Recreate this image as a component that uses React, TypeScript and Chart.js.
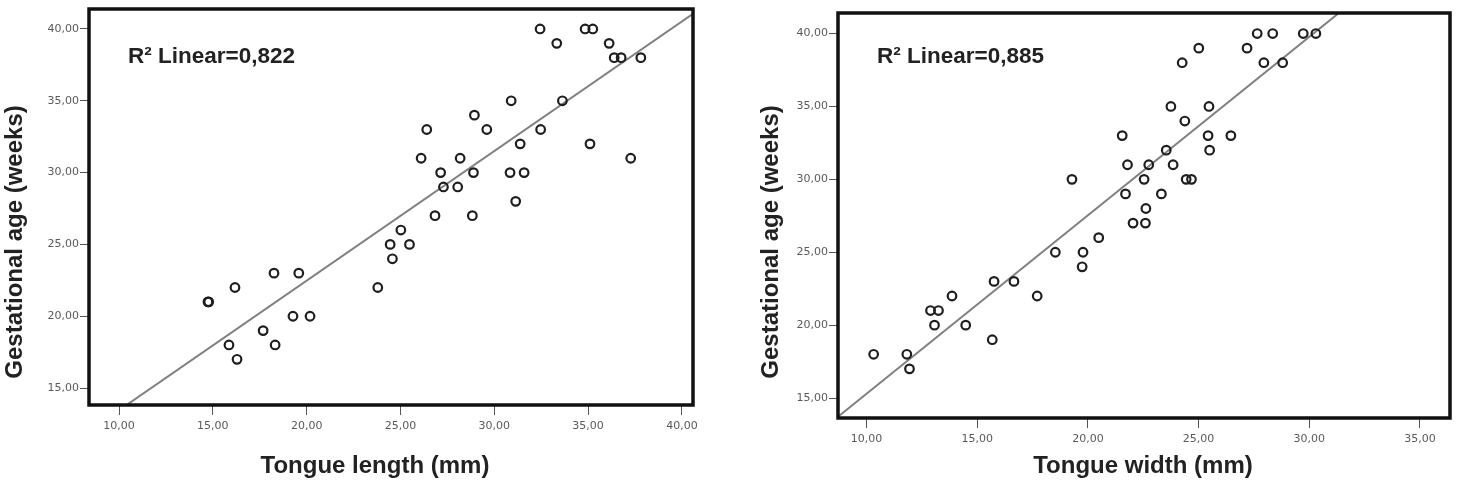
import { useEffect, useRef } from "react";
import { Chart, registerables } from "chart.js";

Chart.register(...registerables);

// Tongue length (mm) vs gestational age (weeks)
const lengthMm = [
  14.74, 14.78, 15.86, 16.18, 16.29, 17.68, 18.26, 18.32, 19.27, 19.58, 20.18,
  23.79, 24.45, 24.57, 25.02, 25.48, 26.1, 26.4, 26.84, 27.14, 27.29, 28.05,
  28.18, 28.83, 28.89, 28.94, 29.6, 30.84, 30.9, 31.14, 31.38, 31.59, 32.44,
  32.47, 33.33, 33.63, 34.84, 35.1, 35.25, 36.12, 36.39, 36.76, 37.27, 37.81,
];
const lengthAge = [
  21, 21, 18, 22, 17, 19, 23, 18, 20, 23, 20, 22, 25, 24, 26, 25, 31, 33, 27,
  30, 29, 29, 31, 27, 30, 34, 33, 30, 35, 28, 32, 30, 40, 33, 39, 35, 40, 32,
  40, 39, 38, 38, 31, 38,
];

// Tongue width (mm) vs gestational age (weeks)
const widthMm = [
  10.32, 11.82, 11.94, 12.89, 13.25, 13.07, 13.86, 14.48, 15.68, 15.76, 16.66,
  17.71, 18.53, 19.78, 19.74, 20.49, 19.28, 21.55, 21.79, 22.75, 23.85, 22.54,
  24.44, 24.68, 21.7, 23.32, 22.62, 22.04, 22.6, 23.54, 25.5, 25.43, 26.46,
  24.38, 23.75, 25.47, 24.26, 27.95, 28.8, 25.01, 27.19, 27.65, 28.35, 29.73,
  30.3,
];
const widthAge = [
  18, 18, 17, 21, 21, 20, 22, 20, 19, 23, 23, 22, 25, 25, 24, 26, 30, 33, 31,
  31, 31, 30, 30, 30, 29, 29, 28, 27, 27, 32, 32, 33, 33, 34, 35, 35, 38, 38,
  38, 39, 39, 40, 40, 40, 40,
];

const ageTicks = [15, 20, 25, 30, 35, 40];
const lengthTicks = [10, 15, 20, 25, 30, 35, 40];
const widthTicks = [10, 15, 20, 25, 30, 35];

const lengthFitLabel = "R² Linear=0,822";
const widthFitLabel = "R² Linear=0,885";

const fmt = (v: number) => v.toFixed(2).replace(".", ",");

function leastSquares(xs: number[], ys: number[]) {
  const n = xs.length;
  const mx = xs.reduce((s, v) => s + v, 0) / n;
  const my = ys.reduce((s, v) => s + v, 0) / n;
  let sxy = 0;
  let sxx = 0;
  for (let i = 0; i < n; i++) {
    sxy += (xs[i] - mx) * (ys[i] - my);
    sxx += (xs[i] - mx) * (xs[i] - mx);
  }
  const slope = sxy / sxx;
  return { slope, intercept: my - slope * mx };
}

const TITLE_FONT = "bold 24px 'Liberation Sans', Arial, sans-serif";
const LABEL_FONT = "bold 22.5px 'Liberation Sans', Arial, sans-serif";

// Frame around the plot area, fit label and both axis titles
const panelDecor = {
  id: "panelDecor",
  afterDraw(chart: any, _args: any, opts: any) {
    const { ctx, chartArea: a } = chart;
    ctx.save();
    ctx.strokeStyle = "#111";
    ctx.lineWidth = 3.5;
    ctx.strokeRect(a.left, a.top, a.right - a.left, a.bottom - a.top);

    ctx.fillStyle = "#222";
    ctx.textBaseline = "middle";
    ctx.textAlign = "left";
    ctx.font = LABEL_FONT;
    ctx.fillText(opts.fitLabel, a.left + opts.labelDx, opts.labelY);

    ctx.font = TITLE_FONT;
    ctx.textAlign = "center";
    ctx.fillText(opts.xTitle, opts.xTitleX, opts.xTitleY);

    ctx.translate(opts.yTitleX, opts.yTitleY);
    ctx.rotate(-Math.PI / 2);
    ctx.fillText(opts.yTitle, 0, 0);
    ctx.restore();
  },
};

type PanelProps = {
  xs: number[];
  ys: number[];
  xTicks: number[];
  xMin: number;
  xMax: number;
  yMin: number;
  yMax: number;
  yAxisWidth: number;
  xAxisHeight: number;
  padTop: number;
  padRight: number;
  fitLabel: string;
  labelDx: number;
  xTitle: string;
  xTitleX: number;
  yTitleX: number;
};

function Panel(p: PanelProps) {
  const ref = useRef<HTMLCanvasElement | null>(null);

  useEffect(() => {
    if (!ref.current) return;
    const fit = leastSquares(p.xs, p.ys);
    const points = p.xs.map((x, i) => ({ x, y: p.ys[i] }));
    const fitLine = [
      { x: p.xMin, y: fit.intercept + fit.slope * p.xMin },
      { x: p.xMax, y: fit.intercept + fit.slope * p.xMax },
    ];
    const tickFont = { family: "'DejaVu Sans', sans-serif", size: 11 };

    const chart = new Chart(ref.current, {
      type: "scatter",
      data: {
        datasets: [
          {
            type: "scatter",
            data: points,
            pointRadius: 4.3,
            pointBorderWidth: 2.2,
            pointBorderColor: "#1e1e1e",
            pointBackgroundColor: "rgba(255,255,255,0)",
            order: 0,
          },
          {
            type: "line",
            data: fitLine,
            borderColor: "#808080",
            borderWidth: 2,
            pointRadius: 0,
            order: 1,
          },
        ],
      },
      options: {
        responsive: false,
        animation: false,
        devicePixelRatio: 1,
        layout: {
          padding: { top: p.padTop, right: p.padRight, left: 0, bottom: 0 },
        },
        plugins: {
          legend: { display: false },
          tooltip: { enabled: false },
          panelDecor: {
            fitLabel: p.fitLabel,
            labelDx: p.labelDx,
            labelY: 57,
            xTitle: p.xTitle,
            xTitleX: p.xTitleX,
            xTitleY: 466,
            yTitle: "Gestational age (weeks)",
            yTitleX: p.yTitleX,
            yTitleY: 242,
          },
        } as any,
        scales: {
          x: {
            type: "linear",
            min: p.xMin,
            max: p.xMax,
            afterBuildTicks: (s: any) => {
              s.ticks = p.xTicks.map((v) => ({ value: v }));
            },
            afterFit: (s: any) => {
              s.height = p.xAxisHeight;
            },
            grid: {
              drawOnChartArea: false,
              drawTicks: true,
              tickLength: 10,
              color: "#555",
            },
            border: { display: false },
            ticks: {
              font: tickFont,
              color: "#5a5a5a",
              padding: 5,
              maxRotation: 0,
              callback: (v: any) => fmt(Number(v)),
            },
          },
          y: {
            type: "linear",
            min: p.yMin,
            max: p.yMax,
            afterBuildTicks: (s: any) => {
              s.ticks = ageTicks.map((v) => ({ value: v }));
            },
            afterFit: (s: any) => {
              s.width = p.yAxisWidth;
            },
            grid: {
              drawOnChartArea: false,
              drawTicks: true,
              tickLength: 9,
              color: "#555",
            },
            border: { display: false },
            ticks: {
              font: tickFont,
              color: "#5a5a5a",
              padding: 1,
              callback: (v: any) => fmt(Number(v)),
            },
          },
        },
      },
      plugins: [panelDecor],
    });
    return () => chart.destroy();
  }, []);

  return <canvas ref={ref} width={731} height={489} style={{ display: "block" }} />;
}

export default function App() {
  return (
    <div
      style={{
        position: "absolute",
        left: 0,
        top: 0,
        width: 1462,
        height: 489,
        display: "flex",
        background: "#fff",
      }}
    >
      <Panel
        xs={lengthMm}
        ys={lengthAge}
        xTicks={lengthTicks}
        xMin={8.4}
        xMax={40.59}
        yMin={13.82}
        yMax={41.39}
        yAxisWidth={89}
        xAxisHeight={84}
        padTop={9}
        padRight={38}
        fitLabel={lengthFitLabel}
        labelDx={39}
        xTitle="Tongue length (mm)"
        xTitleX={375}
        yTitleX={15}
      />
      <Panel
        xs={widthMm}
        ys={widthAge}
        xTicks={widthTicks}
        xMin={8.71}
        xMax={36.36}
        yMin={13.63}
        yMax={41.41}
        yAxisWidth={107}
        xAxisHeight={71}
        padTop={13}
        padRight={12}
        fitLabel={widthFitLabel}
        labelDx={39}
        xTitle="Tongue width (mm)"
        xTitleX={412}
        yTitleX={40}
      />
    </div>
  );
}
